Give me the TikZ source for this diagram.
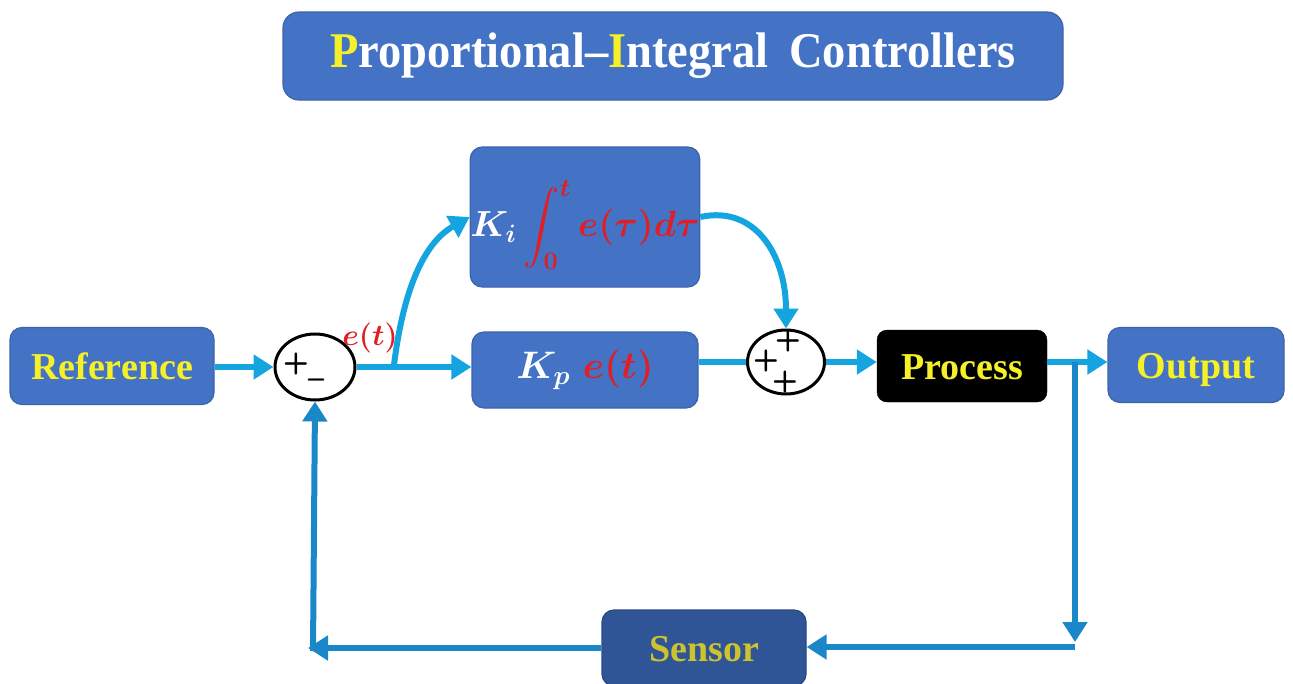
\documentclass[tikz,border=0pt]{standalone}
\usepackage{amsmath,amssymb}
\usepackage{fontspec}
\setmainfont{Liberation Serif}
\usetikzlibrary{arrows.meta,shapes.geometric}
\definecolor{boxblue}{RGB}{68,114,196}
\definecolor{boxedge}{RGB}{60,100,170}
\definecolor{sensblue}{RGB}{47,85,151}
\definecolor{arrblue}{RGB}{20,165,225}
\definecolor{fbblue}{RGB}{25,135,200}
\definecolor{ylw}{RGB}{245,240,40}
\definecolor{olive}{RGB}{205,195,45}
\definecolor{redtxt}{RGB}{225,30,35}
\newcommand{\mathbig}[2]{\scalebox{#1}{\fontsize{20.74}{24}\selectfont\boldmath$#2$}}
\newcommand{\integtext}{\raisebox{-8pt}[\height][\depth]{\mathbig{1.75}{\textcolor{white}{K_i}\,{\color{redtxt}\displaystyle\int_0^t e(\tau)d\tau}}}}
\newcommand{\kptext}{\mathbig{1.85}{\textcolor{white}{K_p}\;\textcolor{redtxt}{e(t)}}}
\newcommand{\ettext}{\mathbig{1.45}{e(t)}}
\tikzset{
  blk/.style={draw=boxedge, line width=1.2pt, fill=boxblue, rounded corners=12pt, inner sep=0pt},
  ytext/.style={text=ylw, font=\fontsize{38}{40}\selectfont\bfseries, text height=26pt, text depth=0pt},
  sumnode/.style={ellipse, draw=black, line width=3pt, fill=white, inner sep=0pt},
  sgn/.style={font=\fontsize{30}{30}\selectfont\bfseries\sffamily, inner sep=0pt},
  arr/.style={draw=arrblue, line width=6pt, -{Triangle[length=20pt,width=24pt]}},
  plainln/.style={draw=arrblue, line width=6pt},
  fbarr/.style={draw=fbblue, line width=6pt, -{Triangle[length=20pt,width=24pt]}},
}
\begin{document}
\begin{tikzpicture}[x=1pt,y=-1pt]
\useasboundingbox (0,0) rectangle (1293,683);
% title
\node[blk, minimum width=780pt, minimum height=88pt, rounded corners=16pt] (title) at (673,56)
  {\scalebox{0.93}[1]{\fontsize{50}{56}\selectfont\bfseries\color{white}{\color{ylw}P}roportional–{\color{ylw}I}ntegral\hspace{0.45em}Controllers}};
% blocks
\node[blk, minimum width=204pt, minimum height=77pt, ytext] (ref) at (112,366) {Reference};
\node[sumnode, minimum width=80pt, minimum height=66pt] (sum1) at (315,367) {};
\node[sgn] (p1) at (296,364) {+};
\node[sgn] (m1) at (316,384) {–};
\node[blk, minimum width=226pt, minimum height=140pt] (integ) at (585,217) {\integtext};
\node[blk, minimum width=226pt, minimum height=76pt] (kp) at (585,370) {\kptext};
\node[sumnode, minimum width=77pt, minimum height=64pt] (sum2) at (786,362) {};
\node[sgn] (q1) at (788,341) {+};
\node[sgn] (q2) at (766,361) {+};
\node[sgn] (q3) at (785,382) {+};
\node[draw=black, fill=black, rounded corners=10pt, minimum width=170pt, minimum height=72pt, inner sep=0pt, ytext] (proc) at (962,366) {Process};
\node[blk, minimum width=176pt, minimum height=75pt, ytext] (out) at (1196,365) {Output};
\node[draw=sensblue!85!black, line width=1.2pt, fill=sensblue, rounded corners=12pt, minimum width=204pt, minimum height=76pt, inner sep=0pt, ytext, text=olive] (sens) at (704,648) {Sensor};
% label
\node[text=redtxt, inner sep=0pt] (et) at (370,338) {\ettext};
% coordinates
\coordinate (b1) at (394,365);
\coordinate (b2) at (1075,362);
\coordinate (c2) at (1075,642);
\coordinate (c2s) at (1075,647);
\coordinate (c1) at (308,648);
\coordinate (c1s) at (313,651);
% connectors
\draw[arr] (ref.east |- sum1.west) -- (sum1.west);
\draw[arr] (sum1.east) -- (sum1.east -| kp.west);
\draw[arr] (b1) .. controls (402,300) and (420,245) .. (integ.west);
\draw[arr] (integ.east) .. controls (755,205) and (786,255) .. (sum2.north);
\draw[plainln] (sum2.west -| kp.east) -- (sum2.west);
\draw[arr] (sum2.east) -- (sum2.east -| proc.west);
\draw[arr] (proc.east |- sum2.east) -- (sum2.east -| out.west);
\draw[fbarr] (b2) -- (c2);
\draw[fbarr] (c2s) -- (c2s -| sens.east);
\draw[fbarr] (sens.west) -- (c1);
\draw[fbarr] (c1s) -- (sum1.south);
\end{tikzpicture}
\end{document}
